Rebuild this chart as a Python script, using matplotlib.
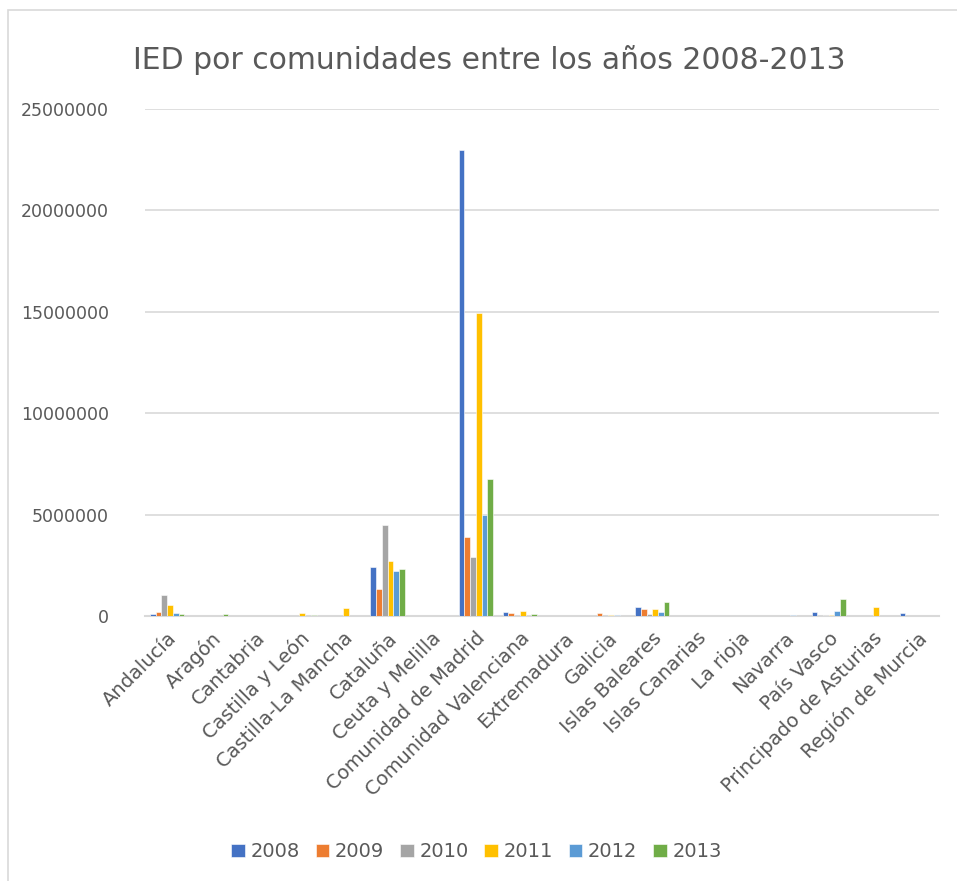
import matplotlib.pyplot as plt
import matplotlib.patches as mpatches
import numpy as np

comunidades = ['Andalucía', 'Aragón', 'Cantabria', 'Castilla y León', 'Castilla-La Mancha',
               'Cataluña', 'Ceuta y Melilla', 'Comunidad de Madrid', 'Comunidad Valenciana',
               'Extremadura', 'Galicia', 'Islas Baleares', 'Islas Canarias', 'La rioja',
               'Navarra', 'País Vasco', 'Principado de Asturias', 'Región de Murcia']
years = ['2008', '2009', '2010', '2011', '2012', '2013']

ied_2008 = [100000, 0, 0, 0, 0, 2420000, 0, 23000000, 210000, 0, 0, 460000, 0, 0, 0, 200000, 0, 150000]
ied_2009 = [200000, 0, 0, 0, 0, 1320000, 0, 3900000, 150000, 0, 150000, 330000, 0, 0, 0, 0, 0, 0]
ied_2010 = [1050000, 0, 0, 0, 0, 4480000, 0, 2910000, 0, 0, 0, 80000, 0, 0, 0, 60000, 0, 0]
ied_2011 = [520000, 0, 0, 150000, 400000, 2710000, 0, 14950000, 260000, 0, 70000, 330000, 0, 0, 0, 60000, 460000, 0]
ied_2012 = [150000, 0, 0, 0, 0, 2200000, 0, 4980000, 0, 0, 70000, 200000, 0, 0, 60000, 260000, 0, 0]
ied_2013 = [80000, 80000, 0, 60000, 0, 2330000, 0, 6750000, 80000, 0, 0, 710000, 0, 0, 0, 820000, 0, 0]

series = [ied_2008, ied_2009, ied_2010, ied_2011, ied_2012, ied_2013]
colors = ['#4472C4', '#ED7D31', '#A5A5A5', '#FFC000', '#5B9BD5', '#70AD47']

fig = plt.figure(figsize=(9.57, 8.81), dpi=100)
ax = fig.add_axes([0.1515, 0.3008, 0.8297, 0.5755])

# light frame of the chart area
fig.patches.append(mpatches.Rectangle((8 / 957, -0.1), 1.2, 1 - 10 / 881 + 0.1,
                                      transform=fig.transFigure, fill=False,
                                      edgecolor='#d9d9d9', linewidth=1.2))

x = np.arange(len(comunidades))
w = 0.13
for i, (vals, c, y) in enumerate(zip(series, colors, years)):
    ax.bar(x + (i - 2.5) * w, vals, w, color=c, edgecolor='white', linewidth=0.4, label=y, zorder=3)

ax.set_xlim(-0.5, len(comunidades) - 0.5)
ax.set_ylim(0, 25000000)
ax.set_yticks(np.arange(0, 25000001, 5000000))
ax.set_yticklabels([str(v) for v in range(0, 25000001, 5000000)])
ax.yaxis.grid(True, color='#d9d9d9', linewidth=1.2, zorder=0)
ax.tick_params(axis='y', length=0, pad=26, labelsize=12.5, labelcolor='#595959')
ax.set_xticks(x)
ax.set_xticklabels(comunidades, rotation=45, ha='right', rotation_mode='anchor',
                   fontsize=14, color='#595959')
ax.tick_params(axis='x', length=0, pad=9)
for s in ['top', 'right', 'left']:
    ax.spines[s].set_visible(False)
ax.spines['bottom'].set_color('#d9d9d9')
ax.spines['bottom'].set_linewidth(1.5)

fig.text(0.511, 0.932, 'IED por comunidades entre los años 2008-2013', ha='center', va='center',
         fontsize=21.5, color='#595959')

fig.legend(loc='center', bbox_to_anchor=(0.498, 0.033), ncol=6, frameon=False, fontsize=14,
           labelcolor='#595959', handlelength=0.7, handleheight=0.7, handletextpad=0.3,
           columnspacing=0.8)

fig.savefig('out.png', dpi=100)
